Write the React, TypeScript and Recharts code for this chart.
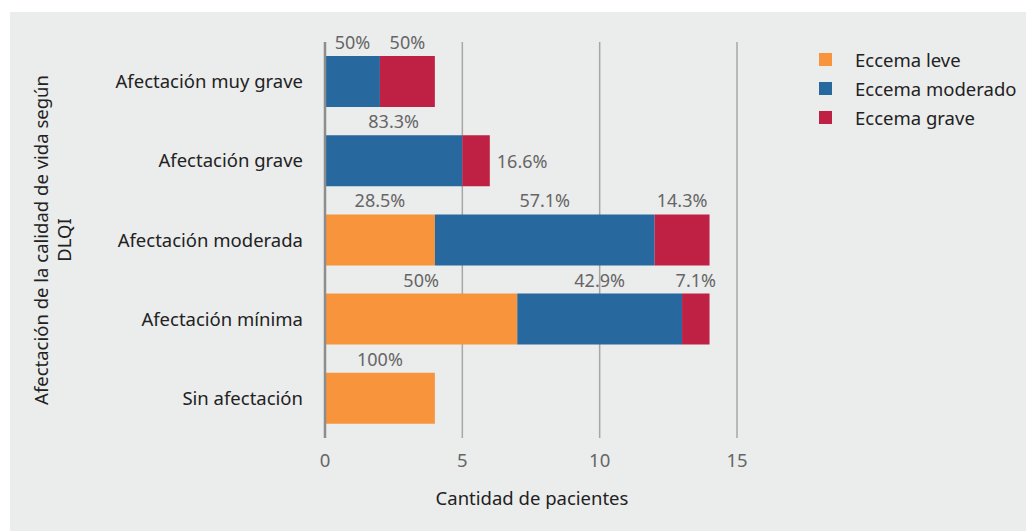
import React from "react";
import {
  BarChart,
  Bar,
  XAxis,
  YAxis,
  CartesianGrid,
  Legend,
  LabelList,
  ReferenceLine,
} from "recharts";

const categories = [
  "Afectación muy grave",
  "Afectación grave",
  "Afectación moderada",
  "Afectación mínima",
  "Sin afectación",
];
const leve = [0, 0, 4, 7, 4];
const moderado = [2, 5, 8, 6, 0];
const grave = [2, 1, 2, 1, 0];
const leveLabels = ["", "", "28.5%", "50%", "100%"];
const moderadoLabels = ["50%", "83.3%", "57.1%", "42.9%", ""];
const graveLabels = ["50%", "16.6%", "14.3%", "7.1%", ""];
const xTicks = [0, 5, 10, 15];

const series = [
  { key: "leve", name: "Eccema leve", color: "#f7943c" },
  { key: "moderado", name: "Eccema moderado", color: "#27689f" },
  { key: "grave", name: "Eccema grave", color: "#bf2144" },
];

const FONT = "'Noto Sans', sans-serif";
const BG = "#ebecec";
const FS = 18.5;

const data = categories.map((name, i) => ({
  name,
  leve: leve[i],
  moderado: moderado[i],
  grave: grave[i],
  leveLabel: leveLabels[i],
  moderadoLabel: moderadoLabels[i],
  graveLabel: graveLabels[i],
}));

// the small red share in "Afectación grave" sits to the right of its bar
function PctLabel(props: any) {
  const { x, y, width, height, value, index, side } = props;
  if (!value) return null;
  if (side && index === 1) {
    return (
      <text
        x={x + width + 7}
        y={y + height / 2}
        dominantBaseline="central"
        fill="#666"
        fontSize={18}
        fontFamily={FONT}
      >
        {value}
      </text>
    );
  }
  return (
    <text
      x={x + width / 2}
      y={y - 7}
      textAnchor="middle"
      fill="#666"
      fontSize={18}
      fontFamily={FONT}
    >
      {value}
    </text>
  );
}

function LegendBox() {
  return (
    <div style={{ fontFamily: FONT }}>
      {series.map((s) => (
        <div
          key={s.key}
          style={{ display: "flex", alignItems: "center", height: 29 }}
        >
          <span
            style={{
              width: 13,
              height: 13,
              background: s.color,
              display: "inline-block",
              marginRight: 23,
            }}
          />
          <span style={{ fontSize: FS, color: "#222" }}>{s.name}</span>
        </div>
      ))}
    </div>
  );
}

function YTitle(props: any) {
  const vb = props.viewBox || { y: 30, height: 396 };
  const cy = vb.y + vb.height / 2;
  return (
    <g fontFamily={FONT} fontSize={FS} fill="#222">
      <text
        x={30}
        y={cy}
        textAnchor="middle"
        dominantBaseline="central"
        transform={`rotate(-90 30 ${cy})`}
      >
        Afectación de la calidad de vida según
      </text>
      <text
        x={53}
        y={cy}
        textAnchor="middle"
        dominantBaseline="central"
        transform={`rotate(-90 53 ${cy})`}
      >
        DLQI
      </text>
    </g>
  );
}

function XTitle() {
  return (
    <text
      x={522}
      y={485}
      textAnchor="middle"
      dominantBaseline="central"
      fontFamily={FONT}
      fontSize={FS}
      fill="#222"
    >
      Cantidad de pacientes
    </text>
  );
}

export default function App() {
  return (
    <div
      style={{
        position: "absolute",
        left: 0,
        top: 0,
        width: 1026,
        height: 531,
        background: "#fff",
      }}
    >
      <div
        style={{
          position: "absolute",
          left: 10,
          top: 12,
          width: 1016,
          height: 519,
          background: BG,
        }}
      >
        <BarChart
          width={1016}
          height={519}
          data={data}
          layout="vertical"
          margin={{ top: 30, right: 289, bottom: 0, left: 0 }}
          barSize={51}
        >
          <CartesianGrid
            horizontal={false}
            stroke="#a6a7a7"
            strokeWidth={1.5}
          />
          <XAxis
            type="number"
            domain={[0, 15]}
            ticks={xTicks}
            height={93}
            axisLine={false}
            tickLine={false}
            tickMargin={10}
            tick={{ fontSize: FS, fill: "#666", fontFamily: FONT }}
            label={{ content: <XTitle /> }}
          />
          <YAxis
            type="category"
            dataKey="name"
            width={315}
            axisLine={false}
            tickLine={false}
            tickMargin={16}
            tick={{ fontSize: FS, fill: "#222", fontFamily: FONT }}
            label={{ content: (p: any) => <YTitle {...p} /> }}
          />
          <Legend
            layout="vertical"
            align="center"
            verticalAlign="middle"
            wrapperStyle={{ left: 809, top: 33, width: 205 }}
            content={<LegendBox />}
          />
          <Bar
            dataKey="leve"
            name="Eccema leve"
            stackId="a"
            fill={series[0].color}
            isAnimationActive={false}
          >
            <LabelList
              dataKey="leveLabel"
              content={(p: any) => <PctLabel {...p} />}
            />
          </Bar>
          <Bar
            dataKey="moderado"
            name="Eccema moderado"
            stackId="a"
            fill={series[1].color}
            isAnimationActive={false}
          >
            <LabelList
              dataKey="moderadoLabel"
              content={(p: any) => <PctLabel {...p} />}
            />
          </Bar>
          <Bar
            dataKey="grave"
            name="Eccema grave"
            stackId="a"
            fill={series[2].color}
            isAnimationActive={false}
          >
            <LabelList
              dataKey="graveLabel"
              content={(p: any) => <PctLabel {...p} side />}
            />
          </Bar>
          <ReferenceLine x={0} stroke="#8c8d8d" strokeWidth={2.5} />
        </BarChart>
      </div>
    </div>
  );
}
